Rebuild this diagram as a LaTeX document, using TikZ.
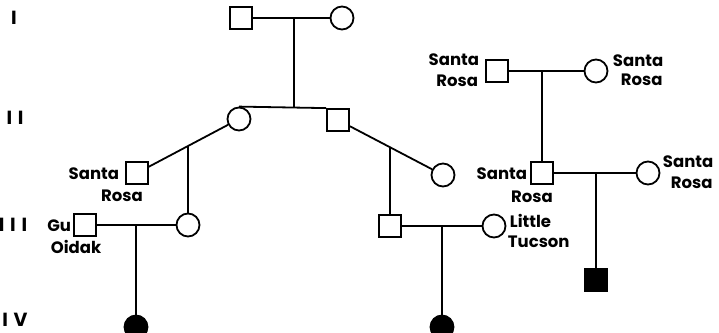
\documentclass[tikz,border=0pt]{standalone}
\usepackage{fontspec}
\setmainfont{Poppins}
\newfontfamily\genfont{Poppins}[LetterSpace=30]
\usetikzlibrary{calc}
\begin{document}
\begin{tikzpicture}[x=1pt,y=-1pt,line width=1.8pt,
  male/.style={draw,rectangle,minimum size=22pt,inner sep=0pt},
  female/.style={draw,circle,minimum size=23pt,inner sep=0pt},
  affected/.style={fill=black},
  lbl/.style={font=\bfseries\fontsize{16.5}{16.5}\selectfont,inner sep=0pt},
  gen/.style={font=\genfont\bfseries\fontsize{19}{19}\selectfont,inner sep=0pt}]
\useasboundingbox (0,0) rectangle (719,332);
\clip (0,0) rectangle (719,332);

% generation numerals
\node[gen] (gI)   at (14,18)  {I};
\node[gen] (gII)  at (15,118) {II};
\node[gen] (gIII) at (13,225) {III};
\node[gen] (gIV)  at (15,320) {IV};

% individuals
\node[male]   (i1)   at (241,18)  {};
\node[female] (i2)   at (342,18)  {};
\node[female] (ii1)  at (239,119) {};
\node[male]   (ii2)  at (338,120) {};
\node[male]   (srm)  at (137,173) {};
\node[female] (ii3)  at (443,175) {};
\node[male]   (gu)   at (85,225)  {};
\node[female] (iii1) at (188,225) {};
\node[male]   (iii2) at (390,226) {};
\node[female] (lt)   at (494,226) {};
\node[female,affected] (iv1) at (136,327) {};
\node[female,affected] (iv2) at (442,327) {};
\node[male]   (r1)   at (497,71)  {};
\node[female] (r2)   at (596,71)  {};
\node[male]   (r3)   at (542,173) {};
\node[female] (r4)   at (648,173) {};
\node[male,affected] (r5) at (596,280) {};

% place-of-origin labels
\node[lbl,anchor=east] (l1a) at (120,174) {Santa};
\node[lbl]             (l1b) at (122,196) {Rosa};
\node[lbl,anchor=east] (l2a) at (72,226)  {Gu};
\node[lbl]             (l2b) at (76,247)  {Oidak};
\node[lbl,anchor=east] (l3a) at (480,60)  {Santa};
\node[lbl,anchor=east] (l3b) at (479,81)  {Rosa};
\node[lbl,anchor=west] (l4a) at (612,61)  {Santa};
\node[lbl,anchor=west] (l4b) at (620,80)  {Rosa};
\node[lbl,anchor=east] (l5a) at (528,174) {Santa};
\node[lbl]             (l5b) at (532,197) {Rosa};
\node[lbl,anchor=west] (l6a) at (662,162) {Santa};
\node[lbl,anchor=west] (l6b) at (670,183) {Rosa};
\node[lbl,anchor=west] (l7a) at (509,221) {Little};
\node[lbl,anchor=west] (l7b) at (507,242) {Tucson};

% matings, sibships and descent lines
\draw (i1) -- (i2);
\coordinate (i12) at (294,18);
\draw (ii1.north) -- (ii2.north west);
\draw (i12) -- (i12 |- ii1.north);

\draw (ii1) -- (srm);
\coordinate (m2) at ($(ii1)!0.5!(srm)$);
\draw (iii1.north) -- (iii1 |- m2);

\draw (ii2) -- (ii3);
\coordinate (m3) at ($(ii2)!0.5!(ii3)$);
\draw (iii2.north) -- (iii2 |- m3);

\draw (gu) -- (iii1);
\draw (iv1.north) -- (iv1 |- gu);

\draw (iii2) -- (lt);
\draw (iv2.north) -- (iv2 |- lt);

\draw (r1) -- (r2);
\draw (r3.north) -- (r3 |- r1);

\draw (r3) -- (r4);
\draw (r5.north) -- (r5 |- r3);
\end{tikzpicture}
\end{document}
